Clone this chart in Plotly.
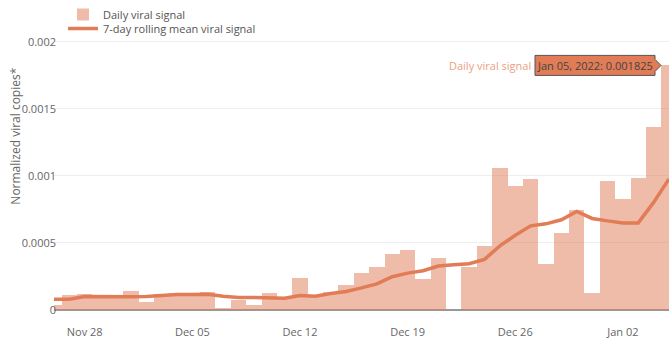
import pandas as pd
import plotly.graph_objects as go

# Daily samples, Nov 26 2021 through Jan 05 2022
dates = pd.date_range("2021-11-26", "2022-01-05", freq="D")

daily_signal = [
    0.000035, 0.00011, 0.000122, 0.00011, 0.00011,          # Nov 26-30
    0.000143, 0.00006, 0.00012, 0.000128, 0.000122,          # Dec 1-5
    0.000138, 0.000015, 0.000072, 0.0000375, 0.000128,       # Dec 6-10
    0.000095, 0.000237, 0.00011, 0.000138, 0.000187,         # Dec 11-15
    0.000278, 0.000323, 0.000418, 0.000445, 0.00023,         # Dec 16-20
    0.000388, None, 0.00032, 0.000478, 0.00106,              # Dec 21-25
    0.000925, 0.000975, 0.000343, 0.000573, 0.000743,        # Dec 26-30
    0.000125,                                                # Dec 31
    0.00096, 0.000828, 0.000985, 0.001366, 0.001825,         # Jan 1-5
]

rolling_mean = [
    0.00008, 0.00008, 0.0001, 0.0000975, 0.0000975,
    0.0000985, 0.0001, 0.00011, 0.000115, 0.000115,
    0.000118, 0.000103, 0.000093, 0.000093, 0.000093,
    0.000088, 0.000108, 0.000103, 0.000123, 0.000138,
    0.000165, 0.000195, 0.000248, 0.000275, 0.000293,
    0.000328, 0.000338, 0.000345, 0.000378, 0.000478,
    0.000558, 0.000628, 0.000643, 0.000673, 0.000735,
    0.000683,
    0.000665, 0.00065, 0.00065, 0.000803, 0.000978,
]

y_ticks = [0, 0.0005, 0.001, 0.0015, 0.002]
y_tick_labels = ["0", "0.0005", "0.001", "0.0015", "0.002"]

ORANGE = "rgb(225,124,86)"
FONT = "Open Sans"

fig = go.Figure()

fig.add_trace(go.Bar(
    x=dates, y=daily_signal, name="Daily viral signal",
    marker=dict(color=ORANGE, line=dict(width=0)),
    opacity=0.5, legend="legend",
))

fig.add_trace(go.Scatter(
    x=dates, y=rolling_mean, name="7-day rolling mean viral signal",
    mode="lines", line=dict(color=ORANGE, width=3.5),
    legend="legend2",
))

# hover-style callout on the most recent daily value
last_x = dates[-1]
last_y = daily_signal[-1]
fig.add_shape(
    type="path", xref="x", yref="y",
    xsizemode="pixel", ysizemode="pixel",
    xanchor=last_x, yanchor=last_y,
    path="M -8,0 L -14,6 L -14,10 L -134,10 L -134,-10 L -14,-10 L -14,-6 Z",
    fillcolor=ORANGE, line=dict(color="#555", width=1), layer="above",
)
fig.add_annotation(
    x=last_x, y=last_y, xref="x", yref="y",
    text=f"Jan 05, 2022: {last_y:.6f}", showarrow=False,
    xanchor="center", yanchor="middle", xshift=-74,
    font=dict(family=FONT, size=11, color="#444"),
)
fig.add_annotation(
    x=last_x, y=last_y, xref="x", yref="y",
    text="Daily viral signal", showarrow=False,
    xanchor="right", yanchor="middle", xshift=-136,
    font=dict(family=FONT, size=11, color="rgb(236,160,130)"),
)

# y axis title
fig.add_annotation(
    x=-0.063, y=0.56, xref="paper", yref="paper",
    text="Normalized viral copies*", textangle=-90, showarrow=False,
    xanchor="center", yanchor="middle",
    font=dict(family=FONT, size=12, color="#666"),
)

legend_common = dict(xanchor="left", yanchor="top",
                     bgcolor="rgba(0,0,0,0)",
                     font=dict(family=FONT, size=11, color="#555"))

fig.update_layout(
    width=669, height=341,
    margin=dict(l=54, r=0, t=0, b=31),
    paper_bgcolor="white", plot_bgcolor="white",
    font=dict(family=FONT, size=11, color="#666"),
    bargap=0,
    showlegend=True,
    legend=dict(x=0.0146, y=1.0, **legend_common),
    legend2=dict(x=0.0146, y=0.9548, **legend_common),
    xaxis=dict(
        range=[dates[0], dates[-1]],
        tickformat="%b %d", dtick=7 * 86400000, tick0="2021-11-28",
        showgrid=False, ticks="", showline=False, zeroline=False,
        ticklabelstandoff=14,
        tickfont=dict(size=11, color="#666"),
    ),
    yaxis=dict(
        range=[0, 0.002313],
        tickvals=y_ticks, ticktext=y_tick_labels,
        gridcolor="#eee", zeroline=True, zerolinecolor="#999", zerolinewidth=1.5,
        ticks="", ticklabelstandoff=-3,
        tickfont=dict(size=11, color="#666"),
    ),
)

fig.write_html("out.html")
